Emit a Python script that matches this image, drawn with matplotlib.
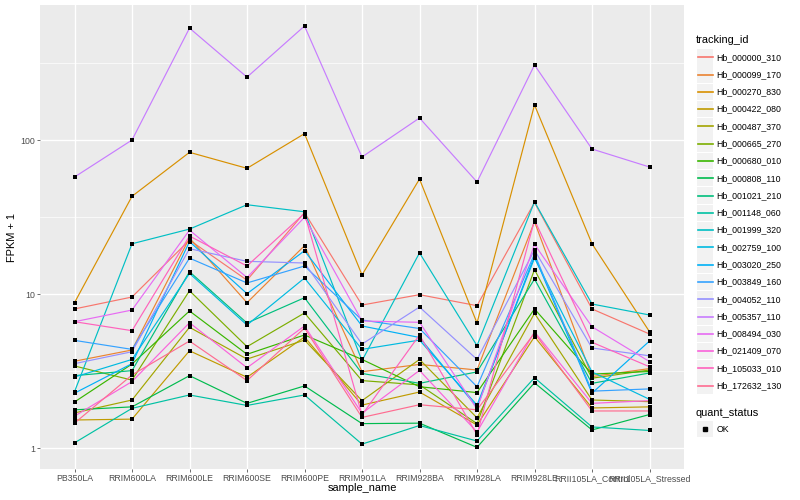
import matplotlib
matplotlib.use("Agg")
import matplotlib.pyplot as plt
from matplotlib.lines import Line2D
from matplotlib.patches import Rectangle
from matplotlib.ticker import FixedLocator, NullFormatter

plt.rcParams['font.family'] = ['Liberation Sans', 'DejaVu Sans']

samples = ["PB350LA", "RRIM600LA", "RRIM600LE", "RRIM600SE", "RRIM600PE",
           "RRIM901LA", "RRIM928BA", "RRIM928LA", "RRIM928LE",
           "RRII105LA_Control", "RRII105LA_Stressed"]

tracking_ids = ["Hb_000000_310", "Hb_000099_170", "Hb_000270_830", "Hb_000422_080",
                "Hb_000487_370", "Hb_000665_270", "Hb_000680_010", "Hb_000808_110",
                "Hb_001021_210", "Hb_001148_060", "Hb_001999_320", "Hb_002759_100",
                "Hb_003020_250", "Hb_003849_160", "Hb_004052_110", "Hb_005357_110",
                "Hb_008494_030", "Hb_021409_070", "Hb_105033_010", "Hb_172632_130"]

colors = ["#F8766D", "#EA8331", "#D89000", "#C09B00", "#A3A500", "#7CAE00",
          "#39B600", "#00BB4E", "#00BF7D", "#00C1A3", "#00BFC4", "#00BAE0",
          "#00B0F6", "#35A2FF", "#9590FF", "#C77CFF", "#E76BF3", "#FA62DB",
          "#FF62BC", "#FF6C91"]

# FPKM + 1 per sample, one list per tracking_id
hb_000000_310 = [8.0, 9.56, 22.4, 12.3, 33.8, 8.48, 9.9, 8.4, 39.3, 8.0, 5.5]
hb_000099_170 = [3.66, 4.33, 23.1, 8.78, 20.6, 3.13, 3.49, 3.21, 29.5, 2.91, 3.28]
hb_000270_830 = [8.78, 43.1, 83.2, 65.5, 110.0, 13.3, 55.8, 6.48, 169.0, 21.2, 5.69]
hb_000422_080 = [1.52, 1.54, 4.28, 2.88, 5.26, 1.90, 2.31, 1.41, 5.28, 1.82, 1.85]
hb_000487_370 = [1.69, 2.05, 6.08, 3.78, 5.02, 2.03, 3.76, 1.57, 7.49, 2.05, 2.00]
hb_000665_270 = [3.41, 2.76, 10.5, 4.55, 7.53, 2.74, 2.57, 1.44, 14.4, 2.84, 3.21]
hb_000680_010 = [1.99, 3.51, 7.76, 4.06, 5.42, 3.76, 2.50, 2.29, 8.0, 3.02, 3.14]
hb_000808_110 = [1.77, 1.85, 2.95, 1.95, 2.53, 1.44, 1.45, 1.01, 2.65, 1.31, 1.65]
hb_001021_210 = [2.95, 3.18, 13.96, 6.48, 9.46, 3.05, 2.63, 3.12, 12.5, 2.63, 3.07]
hb_001148_060 = [1.08, 1.81, 2.21, 1.89, 2.21, 1.06, 1.40, 1.11, 2.86, 1.37, 1.30]
hb_001999_320 = [2.32, 21.2, 26.4, 38.0, 34.2, 3.69, 18.5, 4.62, 39.7, 8.61, 7.31]
hb_002759_100 = [2.89, 3.76, 13.6, 6.29, 12.7, 4.37, 5.02, 1.90, 17.1, 3.12, 2.07]
hb_003020_250 = [2.27, 3.53, 21.9, 10.05, 19.1, 6.20, 5.22, 1.84, 17.7, 2.27, 4.95]
hb_003849_160 = [5.00, 4.37, 17.1, 11.8, 15.2, 6.78, 5.97, 2.50, 18.2, 2.34, 2.42]
hb_004052_110 = [3.53, 4.22, 19.7, 16.3, 15.9, 4.73, 8.23, 3.76, 19.3, 4.46, 3.97]
hb_005357_110 = [57.5, 100.0, 533.0, 256.0, 550.0, 77.6, 139.0, 53.4, 307.0, 87.4, 66.8]
hb_008494_030 = [6.61, 7.87, 26.0, 12.8, 31.5, 6.68, 6.55, 1.79, 21.0, 6.13, 3.64]
hb_021409_070 = [1.61, 2.70, 6.51, 3.32, 6.20, 1.68, 3.19, 1.27, 5.69, 1.95, 2.03]
hb_105033_010 = [6.61, 5.78, 23.8, 15.2, 33.4, 1.64, 5.42, 1.22, 30.2, 4.86, 3.37]
hb_172632_130 = [1.45, 2.98, 4.95, 2.74, 6.01, 1.58, 1.91, 1.77, 5.58, 1.74, 1.74]

series = [hb_000000_310, hb_000099_170, hb_000270_830, hb_000422_080, hb_000487_370,
          hb_000665_270, hb_000680_010, hb_000808_110, hb_001021_210, hb_001148_060,
          hb_001999_320, hb_002759_100, hb_003020_250, hb_003849_160, hb_004052_110,
          hb_005357_110, hb_008494_030, hb_021409_070, hb_105033_010, hb_172632_130]

W, H = 800, 500
fig = plt.figure(figsize=(8, 5), dpi=100)
fig.patch.set_facecolor("white")
ax = fig.add_axes([40 / W, 1 - 469 / H, (684 - 40) / W, (469 - 5) / H])
ax.set_facecolor("#EBEBEB")
for s in ax.spines.values():
    s.set_visible(False)

x = list(range(len(samples)))
for vals, col in zip(series, colors):
    ax.plot(x, vals, color=col, lw=0.85, zorder=3, solid_capstyle="butt")
for vals in series:
    ax.scatter(x, vals, marker="s", s=9, color="black", zorder=4, linewidths=0)

ax.set_yscale("log")
ax.set_ylim(0.7306, 753)
ax.set_xlim(-0.6, len(samples) - 1 + 0.6)
ax.yaxis.set_major_locator(FixedLocator([1, 10, 100]))
ax.set_yticklabels(["1", "10", "100"])
ax.yaxis.set_minor_locator(FixedLocator([10 ** 0.5, 10 ** 1.5, 10 ** 2.5]))
ax.yaxis.set_minor_formatter(NullFormatter())
ax.set_xticks(x)
ax.set_xticklabels(samples)
ax.tick_params(axis="both", which="major", length=2.0, width=0.5, color="#333333",
               labelsize=6.3, labelcolor="#4D4D4D", pad=1.5)
ax.tick_params(axis="y", which="minor", length=0)
ax.grid(which="major", color="white", lw=1.0, zorder=0)
ax.grid(which="minor", axis="y", color="white", lw=0.5, zorder=0)
ax.set_axisbelow(True)
ax.set_xlabel("sample_name", fontsize=7.9)
ax.set_ylabel("FPKM + 1", fontsize=7.9)
ax.xaxis.set_label_coords(0.5, -(488 - 469) / (469 - 5))
ax.yaxis.set_label_coords(-(40 - 12) / (684 - 40), 0.5)
ax.xaxis.label.set_va("center")
ax.yaxis.label.set_va("center")

# legend (drawn in figure pixel coordinates)
def fx(px):
    return px / W

def fy(py):
    return 1 - py / H

fig.text(fx(696), fy(40), "tracking_id", fontsize=7.9, va="center", ha="left")
step = 17.28
for i, (name, col) in enumerate(zip(tracking_ids, colors)):
    yc = 57.3 + i * step
    fig.add_artist(Rectangle((fx(697), fy(yc + 8.2)), 16.4 / W, 16.4 / H,
                             transform=fig.transFigure, facecolor="#F2F2F2",
                             edgecolor="none"))
    fig.add_artist(Line2D([fx(698), fx(712.5)], [fy(yc), fy(yc)],
                          transform=fig.transFigure, color=col, lw=1.2))
    fig.text(fx(716.5), fy(yc), name, fontsize=6.3, va="center", ha="left")

fig.text(fx(696), fy(412.5), "quant_status", fontsize=7.9, va="center", ha="left")
fig.add_artist(Rectangle((fx(697), fy(429 + 8.2)), 16.4 / W, 16.4 / H,
                         transform=fig.transFigure, facecolor="#F2F2F2",
                         edgecolor="none"))
fig.add_artist(Line2D([fx(705)], [fy(429)], transform=fig.transFigure,
                      marker="s", markersize=2.8, color="black", lw=0))
fig.text(fx(716.5), fy(429), "OK", fontsize=6.3, va="center", ha="left")

fig.savefig("out.png", dpi=100)
